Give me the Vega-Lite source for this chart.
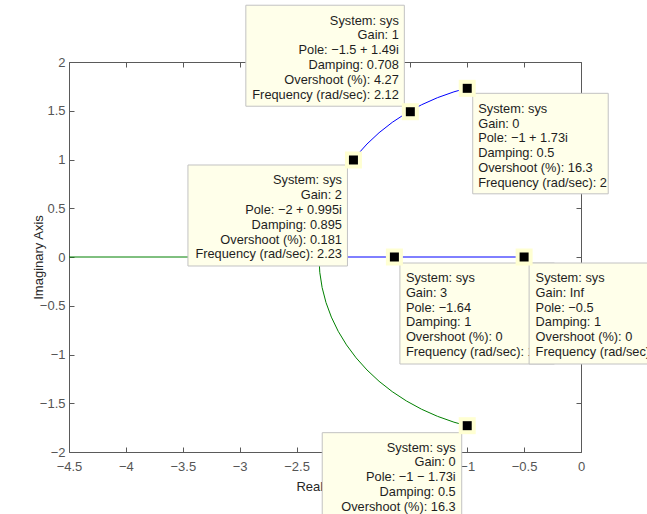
{
  "$schema": "https://vega.github.io/schema/vega-lite/v6.json",
  "width": 512,
  "height": 390,
  "autosize": {"type": "none"},
  "padding": {"left": 69, "top": 62, "right": 66, "bottom": 62},
  "background": "#ffffff",
  "config": {
    "font": "Liberation Sans",
    "view": {"stroke": null},
    "axis": {
      "grid": false,
      "domainColor": "#5a5a5a",
      "tickColor": "#5a5a5a",
      "labelColor": "#555555",
      "labelFont": "Liberation Sans",
      "labelFontSize": 13,
      "titleFont": "Liberation Sans",
      "titleFontSize": 13,
      "titleFontWeight": "normal",
      "titleColor": "#262626",
      "tickSize": -5,
      "labelFlush": false,
      "labelOverlap": false,
      "domainWidth": 1,
      "tickWidth": 1
    }
  },
  "datasets": {
    "locus": [
      {"b": "1", "i": 0, "re": -1.0, "im": 1.732},
      {"b": "1", "i": 1, "re": -1.1166, "im": 1.6941},
      {"b": "1", "i": 2, "re": -1.2619, "im": 1.6339},
      {"b": "1", "i": 3, "re": -1.4014, "im": 1.5613},
      {"b": "1", "i": 4, "re": -1.5341, "im": 1.4768},
      {"b": "1", "i": 5, "re": -1.6588, "im": 1.381},
      {"b": "1", "i": 6, "re": -1.7748, "im": 1.2748},
      {"b": "1", "i": 7, "re": -1.881, "im": 1.1588},
      {"b": "1", "i": 8, "re": -1.9768, "im": 1.0341},
      {"b": "1", "i": 9, "re": -2.0613, "im": 0.9014},
      {"b": "1", "i": 10, "re": -2.1339, "im": 0.7619},
      {"b": "1", "i": 11, "re": -2.1941, "im": 0.6166},
      {"b": "1", "i": 12, "re": -2.2414, "im": 0.4666},
      {"b": "1", "i": 13, "re": -2.2754, "im": 0.3131},
      {"b": "1", "i": 14, "re": -2.296, "im": 0.1571},
      {"b": "1", "i": 15, "re": -2.3028, "im": 0},
      {"b": "1", "i": 16, "re": -0.5, "im": 0},
      {"b": "2", "i": 0, "re": -1.0, "im": -1.732},
      {"b": "2", "i": 1, "re": -1.1166, "im": -1.6941},
      {"b": "2", "i": 2, "re": -1.2619, "im": -1.6339},
      {"b": "2", "i": 3, "re": -1.4014, "im": -1.5613},
      {"b": "2", "i": 4, "re": -1.5341, "im": -1.4768},
      {"b": "2", "i": 5, "re": -1.6588, "im": -1.381},
      {"b": "2", "i": 6, "re": -1.7748, "im": -1.2748},
      {"b": "2", "i": 7, "re": -1.881, "im": -1.1588},
      {"b": "2", "i": 8, "re": -1.9768, "im": -1.0341},
      {"b": "2", "i": 9, "re": -2.0613, "im": -0.9014},
      {"b": "2", "i": 10, "re": -2.1339, "im": -0.7619},
      {"b": "2", "i": 11, "re": -2.1941, "im": -0.6166},
      {"b": "2", "i": 12, "re": -2.2414, "im": -0.4666},
      {"b": "2", "i": 13, "re": -2.2754, "im": -0.3131},
      {"b": "2", "i": 14, "re": -2.296, "im": -0.1571},
      {"b": "2", "i": 15, "re": -2.3028, "im": 0},
      {"b": "2", "i": 16, "re": -4.5, "im": 0}
    ],
    "tips": [
      {"id": 1, "re": -1.5, "im": 1.49, "lines": ["System: sys", "Gain: 1", "Pole: −1.5 + 1.49i", "Damping: 0.708", "Overshoot (%): 4.27", "Frequency (rad/sec): 2.12"]},
      {"id": 2, "re": -1, "im": 1.73, "lines": ["System: sys", "Gain: 0", "Pole: −1 + 1.73i", "Damping: 0.5", "Overshoot (%): 16.3", "Frequency (rad/sec): 2"]},
      {"id": 3, "re": -2, "im": 0.995, "lines": ["System: sys", "Gain: 2", "Pole: −2 + 0.995i", "Damping: 0.895", "Overshoot (%): 0.181", "Frequency (rad/sec): 2.23"]},
      {"id": 4, "re": -1.64, "im": 0, "lines": ["System: sys", "Gain: 3", "Pole: −1.64", "Damping: 1", "Overshoot (%): 0", "Frequency (rad/sec): 1.64"]},
      {"id": 5, "re": -0.5, "im": 0, "lines": ["System: sys", "Gain: Inf", "Pole: −0.5", "Damping: 1", "Overshoot (%): 0", "Frequency (rad/sec): 0.5"]},
      {"id": 6, "re": -1, "im": -1.73, "lines": ["System: sys", "Gain: 0", "Pole: −1 − 1.73i", "Damping: 0.5", "Overshoot (%): 16.3", "Frequency (rad/sec): 2"]}
    ]
  },
  "layer": [
    {
      "mark": {"type": "rule", "color": "#808080", "strokeWidth": 1, "strokeDash": [1, 6]},
      "encoding": {
        "y": {"datum": 0, "type": "quantitative", "scale": {"domain": [-2, 2], "nice": false, "zero": false}, "axis": null}
      }
    },
    {
      "data": {"name": "locus"},
      "mark": {"type": "line", "strokeWidth": 1},
      "encoding": {
        "x": {
          "field": "re", "type": "quantitative",
          "scale": {"domain": [-4.5, 0], "nice": false, "zero": false},
          "axis": {"orient": "bottom", "title": "Real Axis", "values": [-4.5, -4, -3.5, -3, -2.5, -2, -1.5, -1, -0.5, 0], "format": "~g", "labelPadding": 13, "titleX": 254, "titleY": 38, "titleBaseline": "alphabetic"}
        },
        "y": {
          "field": "im", "type": "quantitative",
          "scale": {"domain": [-2, 2], "nice": false, "zero": false},
          "axis": {"orient": "left", "title": "Imaginary Axis", "values": [-2, -1.5, -1, -0.5, 0, 0.5, 1, 1.5, 2], "format": "~g", "labelPadding": 9, "titleX": -26.5, "titleY": 195, "titleBaseline": "alphabetic"}
        },
        "color": {"field": "b", "type": "nominal", "scale": {"domain": ["1", "2"], "range": ["#0000ff", "#008000"]}, "legend": null},
        "order": {"field": "i", "type": "quantitative"}
      }
    },
    {
      "data": {"name": "tips"},
      "transform": [{"filter": "datum.id == 1"}],
      "encoding": {
        "x": {"field": "re", "type": "quantitative", "scale": {"domain": [-4.5, 0], "nice": false, "zero": false}, "axis": null},
        "y": {"field": "im", "type": "quantitative", "scale": {"domain": [-2, 2], "nice": false, "zero": false}, "axis": null}
      },
      "layer": [
        {"mark": {"type": "rect", "fill": "#ffffea", "stroke": "#c2c2c2", "strokeWidth": 1, "xOffset": -164.5, "x2Offset": -6, "yOffset": -106.5, "y2Offset": -5.5}, "encoding": {"x2": {"field": "re"}, "y2": {"field": "im"}}},
        {"mark": {"type": "text", "align": "right", "baseline": "alphabetic", "dx": -11.5, "dy": -87.2, "fontSize": 12.8, "lineHeight": 14.8, "color": "#1e1e1e", "font": "Liberation Sans"}, "encoding": {"text": {"field": "lines", "type": "nominal"}}}
      ]
    },
    {
      "data": {"name": "tips"},
      "transform": [{"filter": "datum.id == 2"}],
      "encoding": {
        "x": {"field": "re", "type": "quantitative", "scale": {"domain": [-4.5, 0], "nice": false, "zero": false}, "axis": null},
        "y": {"field": "im", "type": "quantitative", "scale": {"domain": [-2, 2], "nice": false, "zero": false}, "axis": null}
      },
      "layer": [
        {"mark": {"type": "rect", "fill": "#ffffea", "stroke": "#c2c2c2", "strokeWidth": 1, "xOffset": 5.5, "x2Offset": 141, "yOffset": 5, "y2Offset": 105.5}, "encoding": {"x2": {"field": "re"}, "y2": {"field": "im"}}},
        {"mark": {"type": "text", "align": "left", "baseline": "alphabetic", "dx": 11, "dy": 24.5, "fontSize": 12.8, "lineHeight": 14.8, "color": "#1e1e1e", "font": "Liberation Sans"}, "encoding": {"text": {"field": "lines", "type": "nominal"}}}
      ]
    },
    {
      "data": {"name": "tips"},
      "transform": [{"filter": "datum.id == 3"}],
      "encoding": {
        "x": {"field": "re", "type": "quantitative", "scale": {"domain": [-4.5, 0], "nice": false, "zero": false}, "axis": null},
        "y": {"field": "im", "type": "quantitative", "scale": {"domain": [-2, 2], "nice": false, "zero": false}, "axis": null}
      },
      "layer": [
        {"mark": {"type": "rect", "fill": "#ffffea", "stroke": "#c2c2c2", "strokeWidth": 1, "xOffset": -165.5, "x2Offset": -6, "yOffset": 5, "y2Offset": 106}, "encoding": {"x2": {"field": "re"}, "y2": {"field": "im"}}},
        {"mark": {"type": "text", "align": "right", "baseline": "alphabetic", "dx": -11.5, "dy": 24.5, "fontSize": 12.8, "lineHeight": 14.8, "color": "#1e1e1e", "font": "Liberation Sans"}, "encoding": {"text": {"field": "lines", "type": "nominal"}}}
      ]
    },
    {
      "data": {"name": "tips"},
      "transform": [{"filter": "datum.id == 4"}],
      "encoding": {
        "x": {"field": "re", "type": "quantitative", "scale": {"domain": [-4.5, 0], "nice": false, "zero": false}, "axis": null},
        "y": {"field": "im", "type": "quantitative", "scale": {"domain": [-2, 2], "nice": false, "zero": false}, "axis": null}
      },
      "layer": [
        {"mark": {"type": "rect", "fill": "#ffffea", "stroke": "#c2c2c2", "strokeWidth": 1, "xOffset": 5.5, "x2Offset": 160, "yOffset": 6, "y2Offset": 107}, "encoding": {"x2": {"field": "re"}, "y2": {"field": "im"}}},
        {"mark": {"type": "text", "align": "left", "baseline": "alphabetic", "dx": 11.5, "dy": 25, "fontSize": 12.8, "lineHeight": 14.8, "color": "#1e1e1e", "font": "Liberation Sans"}, "encoding": {"text": {"field": "lines", "type": "nominal"}}}
      ]
    },
    {
      "data": {"name": "tips"},
      "transform": [{"filter": "datum.id == 5"}],
      "encoding": {
        "x": {"field": "re", "type": "quantitative", "scale": {"domain": [-4.5, 0], "nice": false, "zero": false}, "axis": null},
        "y": {"field": "im", "type": "quantitative", "scale": {"domain": [-2, 2], "nice": false, "zero": false}, "axis": null}
      },
      "layer": [
        {"mark": {"type": "rect", "fill": "#ffffea", "stroke": "#c2c2c2", "strokeWidth": 1, "xOffset": 5, "x2Offset": 165, "yOffset": 6, "y2Offset": 107}, "encoding": {"x2": {"field": "re"}, "y2": {"field": "im"}}},
        {"mark": {"type": "text", "align": "left", "baseline": "alphabetic", "dx": 11.5, "dy": 25, "fontSize": 12.8, "lineHeight": 14.8, "color": "#1e1e1e", "font": "Liberation Sans"}, "encoding": {"text": {"field": "lines", "type": "nominal"}}}
      ]
    },
    {
      "data": {"name": "tips"},
      "transform": [{"filter": "datum.id == 6"}],
      "encoding": {
        "x": {"field": "re", "type": "quantitative", "scale": {"domain": [-4.5, 0], "nice": false, "zero": false}, "axis": null},
        "y": {"field": "im", "type": "quantitative", "scale": {"domain": [-2, 2], "nice": false, "zero": false}, "axis": null}
      },
      "layer": [
        {"mark": {"type": "rect", "fill": "#ffffea", "stroke": "#c2c2c2", "strokeWidth": 1, "xOffset": -145, "x2Offset": -5.5, "yOffset": 7, "y2Offset": 108}, "encoding": {"x2": {"field": "re"}, "y2": {"field": "im"}}},
        {"mark": {"type": "text", "align": "right", "baseline": "alphabetic", "dx": -11.5, "dy": 26, "fontSize": 12.8, "lineHeight": 14.8, "color": "#1e1e1e", "font": "Liberation Sans"}, "encoding": {"text": {"field": "lines", "type": "nominal"}}}
      ]
    },
    {
      "mark": {"type": "rule", "color": "#808080", "strokeWidth": 1, "strokeDash": [1, 6]},
      "encoding": {
        "x": {"datum": 0, "type": "quantitative", "scale": {"domain": [-4.5, 0], "nice": false, "zero": false}, "axis": null}
      }
    },
    {
      "data": {"name": "tips"},
      "mark": {"type": "point", "shape": "square", "filled": true, "size": 289, "color": "#ffffd2", "opacity": 1, "strokeWidth": 0},
      "encoding": {
        "x": {"field": "re", "type": "quantitative", "scale": {"domain": [-4.5, 0], "nice": false, "zero": false}, "axis": {"orient": "top", "title": null, "labels": false, "values": [-4.5, -4, -3.5, -3, -2.5, -2, -1.5, -1, -0.5, 0]}},
        "y": {"field": "im", "type": "quantitative", "scale": {"domain": [-2, 2], "nice": false, "zero": false}, "axis": {"orient": "right", "title": null, "labels": false, "values": [-2, -1.5, -1, -0.5, 0, 0.5, 1, 1.5, 2]}}
      }
    },
    {
      "data": {"name": "tips"},
      "mark": {"type": "point", "shape": "square", "filled": true, "size": 81, "color": "#000000", "opacity": 1, "strokeWidth": 0},
      "encoding": {
        "x": {"field": "re", "type": "quantitative", "scale": {"domain": [-4.5, 0], "nice": false, "zero": false}, "axis": null},
        "y": {"field": "im", "type": "quantitative", "scale": {"domain": [-2, 2], "nice": false, "zero": false}, "axis": null}
      }
    }
  ]
}
